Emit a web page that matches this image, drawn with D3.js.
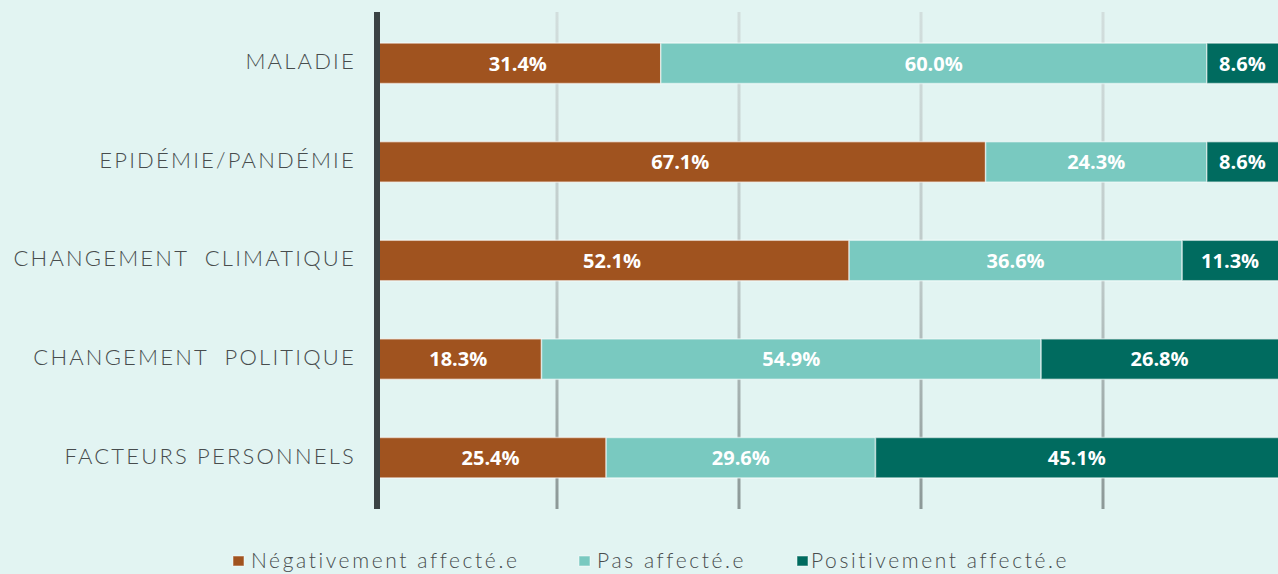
<!DOCTYPE html>
<html><head><meta charset="utf-8">
<script src="https://cdn.jsdelivr.net/npm/d3@7"></script>
<style>
html,body{margin:0;padding:0;background:#e2f4f2;overflow:hidden;}
svg{display:block;}
</style></head>
<body>
<svg id="chart" width="1278" height="574"></svg>
<script>
const categories = ["MALADIE","EPIDÉMIE/PANDÉMIE","CHANGEMENT  CLIMATIQUE","CHANGEMENT  POLITIQUE","FACTEURS PERSONNELS"];
const seriesNames = ["Négativement affecté.e","Pas affecté.e","Positivement affecté.e"];
const negatif = [31.4, 67.1, 52.1, 18.3, 25.4];
const pasAffecte = [60.0, 24.3, 36.6, 54.9, 29.6];
const positif = [8.6, 8.6, 11.3, 26.8, 45.1];
const gridTicks = [20, 40, 60, 80];
const colors = ["#a0531f", "#79c9c0", "#006b5f"];

const svg = d3.select("#chart");
const W = 1278, H = 574;
svg.append("rect").attr("width", W).attr("height", H).attr("fill", "#e2f4f2");

const x = d3.scaleLinear().domain([0, 100]).range([375, 1285]);
const y = d3.scaleBand().domain(categories).range([14, 507]).paddingInner(0.6).paddingOuter(0.3);

const defs = svg.append("defs");
const grad = defs.append("linearGradient").attr("id", "gridGrad")
  .attr("x1", 0).attr("y1", 0).attr("x2", 0).attr("y2", 1);
grad.append("stop").attr("offset", "0%").attr("stop-color", "#d2dedd");
grad.append("stop").attr("offset", "55%").attr("stop-color", "#bcc8c7");
grad.append("stop").attr("offset", "100%").attr("stop-color", "#8c9897");

// gridlines
svg.append("g").selectAll("rect").data(gridTicks).join("rect")
  .attr("x", d => x(d) - 1.5).attr("width", 3)
  .attr("y", 12).attr("height", 497)
  .attr("fill", "url(#gridGrad)");

// stacked data
const rows = categories.map((c, i) => ({cat: c, v: [negatif[i], pasAffecte[i], positif[i]]}));
const segs = [];
rows.forEach(r => {
  let acc = 0;
  r.v.forEach((v, k) => { segs.push({cat: r.cat, k, x0: acc, x1: acc + v, v}); acc += v; });
});

const bars = svg.append("g");
bars.selectAll("rect").data(segs).join("rect")
  .attr("x", d => x(d.x0)).attr("width", d => x(d.x1) - x(d.x0))
  .attr("y", d => y(d.cat) - 0.5).attr("height", y.bandwidth() + 1)
  .attr("fill", d => colors[d.k])
  .attr("stroke", "rgba(255,255,255,0.55)").attr("stroke-width", 1.5);

bars.selectAll("text").data(segs).join("text")
  .attr("x", d => (x(d.x0) + Math.min(x(d.x1), W)) / 2)
  .attr("y", d => y(d.cat) + y.bandwidth() / 2)
  .attr("dy", "0.36em")
  .attr("text-anchor", "middle")
  .attr("fill", "#ffffff")
  .attr("font-family", "'Open Sans', sans-serif")
  .attr("font-weight", 700)
  .attr("font-size", 20)
  .text(d => d.v.toFixed(1) + "%");

// axis line
svg.append("rect").attr("x", 374).attr("y", 12).attr("width", 6).attr("height", 497).attr("fill", "#3a4244");

// category labels
svg.append("g").selectAll("text").data(categories).join("text")
  .attr("x", 356)
  .attr("y", d => y(d) + y.bandwidth() / 2 - 2)
  .attr("dy", "0.36em")
  .attr("text-anchor", "end")
  .attr("fill", "#474c4d")
  .attr("font-family", "Lato, 'Open Sans', sans-serif")
  .attr("font-weight", 300)
  .attr("font-size", 22)
  .attr("letter-spacing", "2.2px")
  .style("white-space", "pre")
  .text(d => d);

// legend
const legendX = [233, 579, 797];
const lg = svg.append("g").selectAll("g").data(seriesNames).join("g")
  .attr("transform", (d, i) => `translate(${legendX[i]},560)`);
lg.append("rect").attr("x", 0).attr("y", -4).attr("width", 11).attr("height", 10)
  .attr("fill", (d, i) => colors[i]).attr("stroke", "rgba(255,255,255,0.5)").attr("stroke-width", 1);
lg.append("text").attr("x", (d, i) => i === 2 ? 14 : 18).attr("y", 0).attr("dy", "0.36em")
  .attr("fill", "#474c4d")
  .attr("font-family", "Lato, 'Open Sans', sans-serif")
  .attr("font-weight", 300)
  .attr("font-size", 21)
  .attr("letter-spacing", "2.6px")
  .text(d => d);
</script>
</body></html>
